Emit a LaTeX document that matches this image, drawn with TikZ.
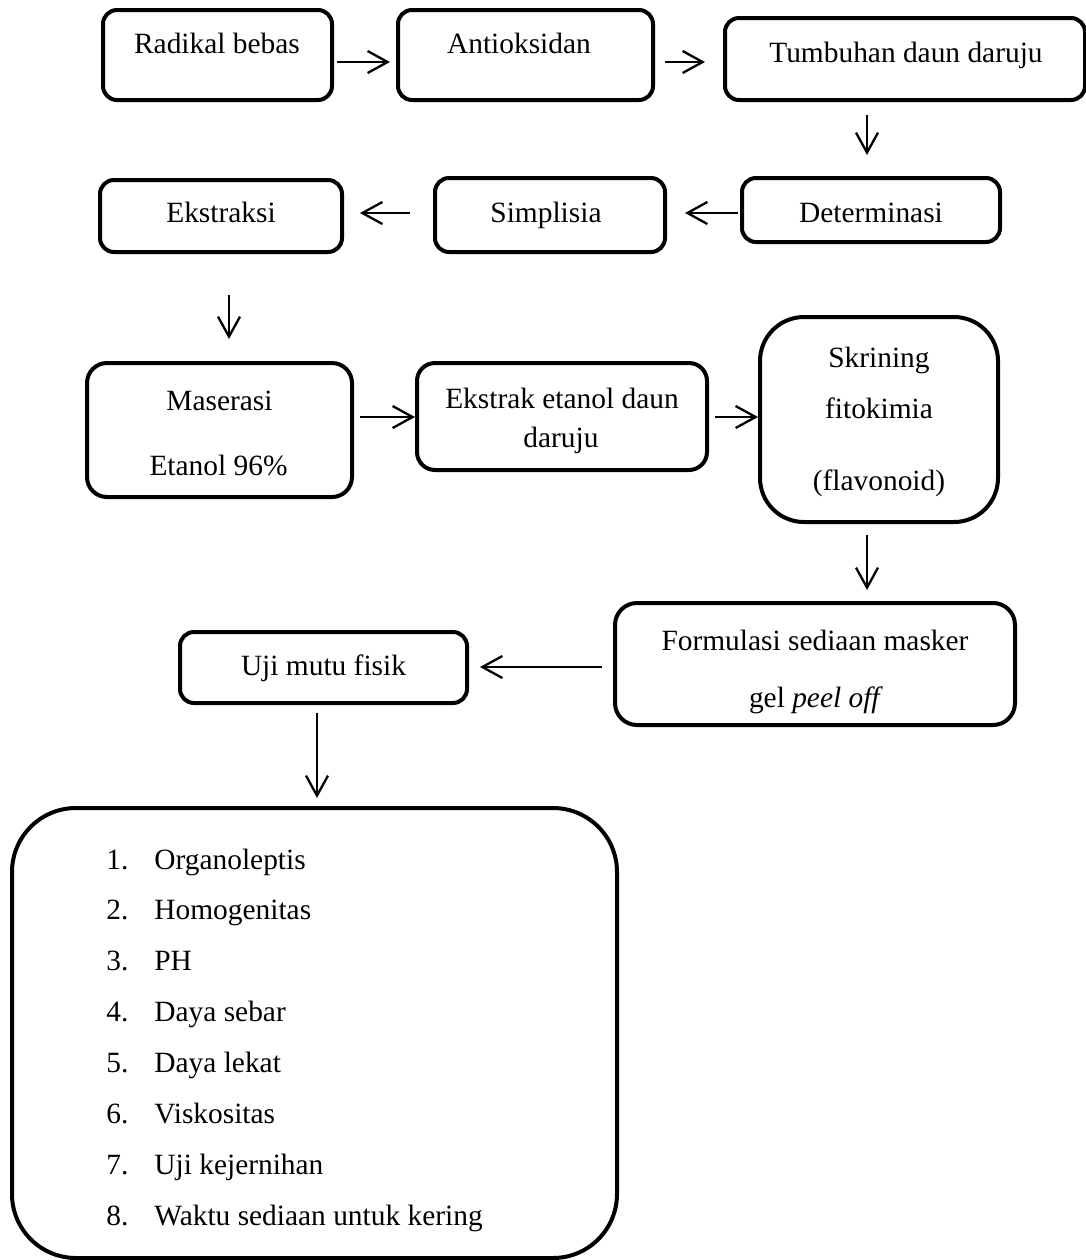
\documentclass[tikz,border=0pt]{standalone}
\usepackage{fontspec}
\setmainfont{Liberation Serif}
\usetikzlibrary{arrows.meta,calc}
\newcommand{\flowbox}[6]{\node[box, rounded corners=#6pt, minimum width={(#4-#2)*0.5pt}, minimum height={(#5-#3)*0.5pt}] (#1) at ({(#2+#4)/2},{(#3+#5)/2}) {};}
\begin{document}
\begin{tikzpicture}[x=0.5pt,y=-0.5pt,
  box/.style={draw, line width=2pt, inner sep=0pt, outer sep=0pt},
  arr/.style={line width=1.15pt, -{Straight Barb[length=10pt,width=11pt,line width=1.15pt]}},
  lbl/.style={anchor=base, inner sep=0pt, font=\fontsize{14.7}{17}\selectfont},
  item/.style={anchor=base west, inner sep=0pt, font=\fontsize{14.7}{17}\selectfont},
]
\useasboundingbox (0,0) rectangle (1086,1260);

% boxes
\flowbox{b1}{103}{10}{332}{100}{7}
\flowbox{b2}{398}{10}{653}{100}{7}
\flowbox{b3}{725}{18}{1085}{100}{7}
\flowbox{b4}{742}{178}{1000}{242}{7}
\flowbox{b5}{435}{178}{665}{252}{7}
\flowbox{b6}{100}{180}{342}{252}{7}
\flowbox{b7}{87}{363}{352}{497}{10}
\flowbox{b8}{417}{363}{707}{470}{9}
\flowbox{b9}{760}{317}{998}{522}{22}
\flowbox{b10}{615}{603}{1015}{725}{11}
\flowbox{b11}{180}{632}{467}{703}{7}
\flowbox{b12}{12}{808}{617}{1258}{32}

% texts
\node[lbl] (t1) at (217,53) {Radikal bebas};
\node[lbl] (t2) at (519,53) {Antioksidan};
\node[lbl] (t3) at (906,62) {Tumbuhan daun daruju};
\node[lbl] (t4) at (871,222) {Determinasi};
\node[lbl] (t5) at (546,222) {Simplisia};
\node[lbl] (t6) at (221,222) {Ekstraksi};
\node[lbl] (t7a) at (219.5,410) {Maserasi};
\node[lbl] (t7b) at (218.5,475) {Etanol 96\%};
\node[lbl] (t8a) at (562,408) {Ekstrak etanol daun};
\node[lbl] (t8b) at (561,447) {daruju};
\node[lbl] (t9a) at (879,367) {Skrining};
\node[lbl] (t9b) at (879,418) {fitokimia};
\node[lbl] (t9c) at (879,490) {(flavonoid)};
\node[lbl] (t10a) at (815,650) {Formulasi sediaan masker};
\node[lbl] (t10b) at (816,707) {gel \textit{peel off}};
\node[lbl] (t11) at (323.5,675) {Uji mutu fisik};

\foreach \n/\txt [count=\i from 0] in {1/Organoleptis,2/Homogenitas,3/PH,4/Daya sebar,5/Daya lekat,6/Viskositas,7/Uji kejernihan,8/Waktu sediaan untuk kering}{
  \node[item] (n\n) at (106,{869+50.9*\i}) {\n.};
  \node[item] (i\n) at (154,{869+50.9*\i}) {\txt};
}

% connectors
\draw[arr] ($(b1.east|-0,62)+(5,0)$) -- ($(b2.west|-0,62)+(-8,0)$);
\draw[arr] ($(b2.east|-0,62)+(12,0)$) -- ($(b3.west|-0,62)+(-20,0)$);
\draw[arr] ($(b3.south-|867,0)+(0,15)$) -- ($(b4.north-|867,0)+(0,-23)$);
\draw[arr] ($(b4.west|-0,213)+(-4,0)$) -- ($(b5.east|-0,213)+(20,0)$);
\draw[arr] ($(b5.west|-0,213)+(-25,0)$) -- ($(b6.east|-0,213)+(18,0)$);
\draw[arr] ($(b6.south-|229,0)+(0,43)$) -- ($(b7.north-|229,0)+(0,-24)$);
\draw[arr] ($(b7.east|-0,417)+(8,0)$) -- ($(b8.west|-0,417)+(-2,0)$);
\draw[arr] ($(b8.east|-0,417)+(8,0)$) -- ($(b9.west|-0,417)+(-2,0)$);
\draw[arr] ($(b9.south-|867,0)+(0,13)$) -- ($(b10.north-|867,0)+(0,-13)$);
\draw[arr] ($(b10.west|-0,667)+(-13,0)$) -- ($(b11.east|-0,667)+(13,0)$);
\draw[arr] ($(b11.south-|317,0)+(0,10)$) -- ($(b12.north-|317,0)+(0,-10)$);
\end{tikzpicture}
\end{document}
